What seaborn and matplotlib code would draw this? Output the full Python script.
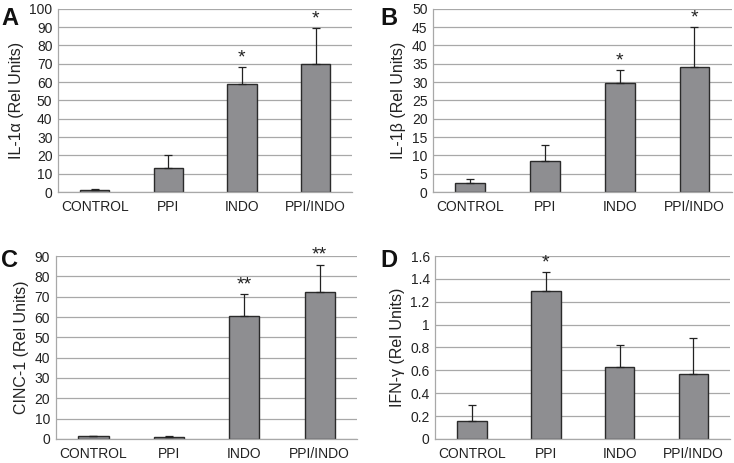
import numpy as np
import pandas as pd
import matplotlib
matplotlib.use("Agg")
import matplotlib.pyplot as plt
import seaborn as sns

categories = ["CONTROL", "PPI", "INDO", "PPI/INDO"]

il1a_mean = [1.2, 13.3, 59.0, 70.0]
il1a_err = [0.5, 6.7, 9.0, 19.5]
il1a_sig = ["", "", "*", "*"]

il1b_mean = [2.4, 8.4, 29.8, 34.0]
il1b_err = [1.1, 4.4, 3.4, 11.0]
il1b_sig = ["", "", "*", "*"]

cinc_mean = [1.3, 1.0, 60.3, 72.5]
cinc_err = [0.3, 0.6, 11.0, 13.2]
cinc_sig = ["", "", "**", "**"]

ifn_mean = [0.16, 1.29, 0.63, 0.57]
ifn_err = [0.14, 0.17, 0.19, 0.31]
ifn_sig = ["", "*", "", ""]

panels = [
    ("A", "IL-1α (Rel Units)", il1a_mean, il1a_err, il1a_sig, 100, 10, "{:.0f}"),
    ("B", "IL-1β (Rel Units)", il1b_mean, il1b_err, il1b_sig, 50, 5, "{:.0f}"),
    ("C", "CINC-1 (Rel Units)", cinc_mean, cinc_err, cinc_sig, 90, 10, "{:.0f}"),
    ("D", "IFN-γ (Rel Units)", ifn_mean, ifn_err, ifn_sig, 1.6, 0.2, "{:g}"),
]

sns.set_theme(style="white")
plt.rcParams["font.family"] = ["Liberation Sans", "DejaVu Sans"]

fig = plt.figure(figsize=(7.34, 4.63), dpi=100)

positions = [
    [0.079, 0.585, 0.401, 0.396],
    [0.590, 0.585, 0.407, 0.396],
    [0.076, 0.052, 0.411, 0.395],
    [0.593, 0.052, 0.402, 0.395],
]
letter_pos = [(0.002, 0.985), (0.518, 0.985), (0.002, 0.463), (0.518, 0.463)]

for (letter, ylabel, mean, err, sig, ymax, step, fmt), pos, lp in zip(panels, positions, letter_pos):
    ax = fig.add_axes(pos)
    df = pd.DataFrame({"group": categories, "value": mean})
    sns.barplot(data=df, x="group", y="value", ax=ax, color="#8e8e91",
                edgecolor="#2b2b2b", linewidth=1.0, width=0.4, errorbar=None,
                saturation=1)
    x = np.arange(len(categories))
    ax.errorbar(x, mean, yerr=[np.zeros(len(err)), err], fmt="none",
                ecolor="#222222", elinewidth=0.9, capsize=3, capthick=0.9, zorder=3)
    for xi, m, e, s in zip(x, mean, err, sig):
        if s:
            ax.text(xi, m + e + ymax * 0.005, s, ha="center", va="bottom",
                    fontsize=14, color="#222222")
    ax.set_xlim(-0.5, 3.5)
    ax.set_ylim(0, ymax)
    ticks = np.arange(0, ymax + step / 2, step)
    ax.set_yticks(ticks)
    ax.set_yticklabels([fmt.format(round(t, 2)) for t in ticks])
    ax.yaxis.grid(True, color="#a8a8a8", linewidth=0.9)
    ax.set_axisbelow(True)
    ax.set_xlabel("")
    ax.set_ylabel(ylabel, fontsize=11.5, color="#222222", labelpad=4)
    ax.set_xticks(x)
    ax.set_xticks([-0.5, 0.5, 1.5, 2.5, 3.5], minor=True)
    ax.tick_params(axis="x", which="major", length=0, labelsize=10, colors="#222222", pad=6)
    ax.tick_params(axis="x", which="minor", length=3, color="#a8a8a8", width=0.9, direction="out")
    ax.tick_params(axis="y", length=0, labelsize=10, colors="#222222", pad=4)
    for side in ["top", "right"]:
        ax.spines[side].set_visible(False)
    ax.spines["left"].set_color("#a8a8a8")
    ax.spines["bottom"].set_color("#a8a8a8")
    ax.spines["left"].set_linewidth(0.9)
    ax.spines["bottom"].set_linewidth(0.9)
    fig.text(lp[0], lp[1], letter, fontsize=17, fontweight="bold", ha="left", va="top",
             color="#111111")

fig.savefig("out.png", dpi=100)
